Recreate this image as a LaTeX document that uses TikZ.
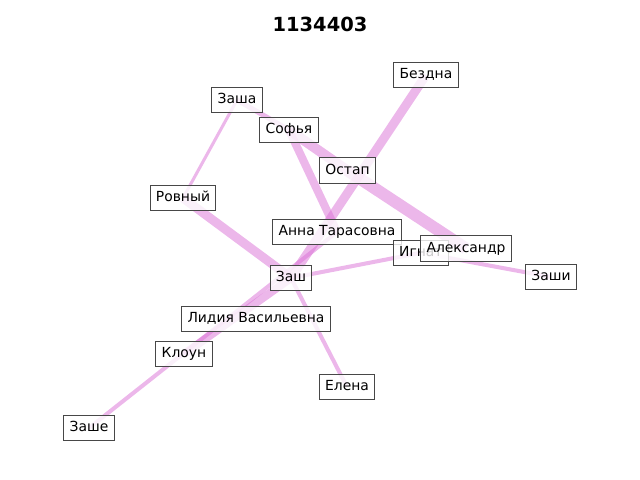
\documentclass[tikz,border=0pt]{standalone}
\usepackage{fontspec}
\setmainfont{DejaVu Sans}
\pgfdeclarelayer{bg}
\pgfsetlayers{bg,main}
\definecolor{orch}{RGB}{218,112,214}
\begin{document}
\begin{tikzpicture}[x=0.72pt,y=-0.72pt,
  nd/.style={draw=black!72, line width=0.72pt, fill=white, fill opacity=0.8, text opacity=1,
    font=\fontsize{10}{12}\selectfont, inner xsep=4.2pt, inner ysep=3.9pt,
    text height=8pt, text depth=2.4pt},
  ed/.style={draw=orch, draw opacity=0.5, line width=#1},
  ttl/.style={font=\bfseries\fontsize{14}{16}\selectfont}
]
\useasboundingbox (0,0) rectangle (640,480);
\node[ttl] (title) at (320,24) {1134403};
\node[nd] (bezdna) at (426,75) {Бездна};
\node[nd] (zasha) at (237,100) {Заша};
\node[nd] (sofya) at (289,130) {Софья};
\node[nd] (ostap) at (347.5,170.5) {Остап};
\node[nd] (rovny) at (183,198) {Ровный};
\node[nd] (anna) at (337,232) {Анна Тарасовна};
\node[nd] (ignat) at (420.8,252.8) {Игнат};
\node[nd] (alex) at (466,248.5) {Александр};
\node[nd] (zashi) at (551,277) {Заши};
\node[nd] (zash) at (291,278) {Заш};
\node[nd] (lidia) at (256,319) {Лидия Васильевна};
\node[nd] (kloun) at (184,354) {Клоун};
\node[nd] (elena) at (347,387) {Елена};
\node[nd] (zashe) at (89,428) {Заше};
\begin{pgfonlayer}{bg}
\draw[ed=2.2pt] (zasha.center) -- (rovny.center);
\draw[ed=6.5pt] (rovny.center) -- (zash.center);
\draw[ed=5.8pt] (zash.center) -- (kloun.center);
\draw[ed=2.9pt] (zashe.center) -- (anna.center);
\draw[ed=6.5pt] (bezdna.center) -- (zash.center);
\draw[ed=5.8pt] (sofya.center) -- (anna.center);
\draw[ed=2.9pt] (zash.center) -- (ignat.center);
\draw[ed=2.9pt] (ignat.center) -- (zashi.center);
\draw[ed=2.9pt] (zash.center) -- (elena.center);
\draw[ed=3.6pt] (zasha.center) -- (sofya.center);
\draw[ed=7.2pt] (sofya.center) -- (ostap.center);
\draw[ed=8.6pt] (ostap.center) -- (alex.center);
\end{pgfonlayer}
\end{tikzpicture}
\end{document}
